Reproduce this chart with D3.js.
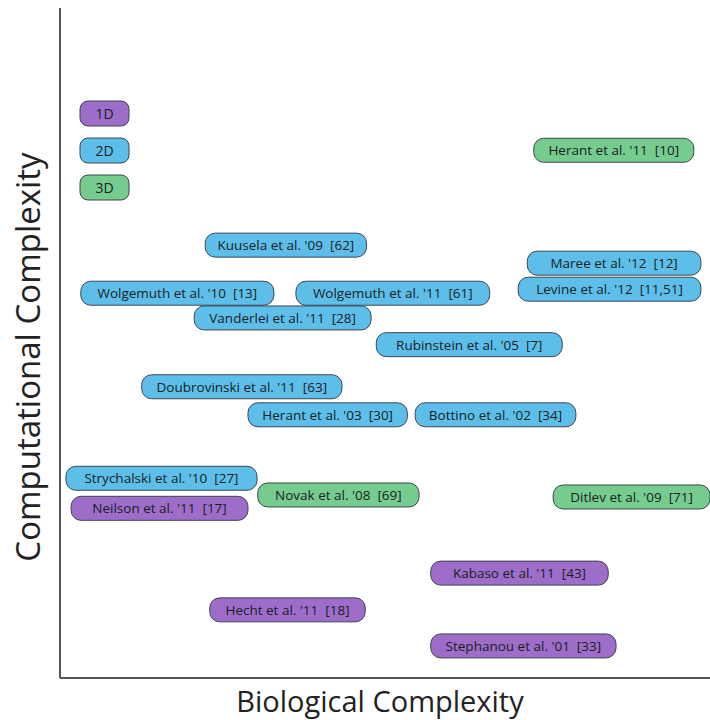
<!DOCTYPE html>
<html>
<head>
<meta charset="utf-8">
<script src="https://cdn.jsdelivr.net/npm/d3@7"></script>
<style>
  html, body { margin: 0; padding: 0; background: #fff; }
  svg { display: block; }
</style>
</head>
<body>
<div id="chart"></div>
<script>
(function () {
  'use strict';

  // ── Data ──
  var STUDIES = [
    "Herant et al. '11  [10]",
    "Kuusela et al. '09  [62]",
    "Maree et al. '12  [12]",
    "Wolgemuth et al. '10  [13]",
    "Wolgemuth et al. '11  [61]",
    "Levine et al. '12  [11,51]",
    "Vanderlei et al. '11  [28]",
    "Rubinstein et al. '05  [7]",
    "Doubrovinski et al. '11  [63]",
    "Herant et al. '03  [30]",
    "Bottino et al. '02  [34]",
    "Strychalski et al. '10  [27]",
    "Novak et al. '08  [69]",
    "Ditlev et al. '09  [71]",
    "Neilson et al. '11  [17]",
    "Kabaso et al. '11  [43]",
    "Hecht et al. '11  [18]",
    "Stephanou et al. '01  [33]"
  ];
  var DIMENSION = ['3D', '2D', '2D', '2D', '2D', '2D', '2D', '2D', '2D',
                   '2D', '2D', '2D', '3D', '3D', '1D', '1D', '1D', '1D'];
  // biological complexity span (low, high), 0-100
  var BIO_LOW  = [72.8, 22.1, 71.8, 2.9, 36.1, 70.4, 20.4, 48.5, 12.3,
                  28.7, 54.5, 0.6, 30.2, 75.8, 1.4, 56.9, 22.8, 56.9];
  var BIO_HIGH = [97.5, 47.0, 98.6, 32.7, 66.0, 98.6, 47.7, 77.2, 43.2,
                  53.3, 79.3, 30.1, 55.1, 100, 28.7, 84.3, 46.8, 85.5];
  // computational complexity, 0-100
  var COMP = [79.0, 64.8, 62.1, 57.6, 57.6, 58.2, 53.9, 49.9, 43.6,
              39.4, 39.4, 29.9, 27.4, 27.1, 25.4, 15.7, 10.2, 4.8];

  var LEGEND_KEYS = ['1D', '2D', '3D'];
  var COLORS = ['#9d6dc9', '#5dbeea', '#75cc8e'];

  // ── Layout ──
  var WIDTH = 710, HEIGHT = 720;
  var PLOT = { left: 60, right: 710, top: 8, bottom: 678 };
  var BOX_H = 24;
  var FONT = "'Open Sans', 'Noto Sans', sans-serif";

  var x = d3.scaleLinear().domain([0, 100]).range([PLOT.left + 2, PLOT.right]);
  var y = d3.scaleLinear().domain([0, 100]).range([PLOT.bottom, PLOT.top + 2]);
  var color = d3.scaleOrdinal().domain(LEGEND_KEYS).range(COLORS);

  var svg = d3.select('#chart').append('svg')
    .attr('width', WIDTH)
    .attr('height', HEIGHT);

  // axes: plain lines, no ticks
  svg.append('line')
    .attr('x1', PLOT.left).attr('x2', PLOT.left)
    .attr('y1', PLOT.top).attr('y2', PLOT.bottom)
    .attr('stroke', '#555').attr('stroke-width', 2);
  svg.append('line')
    .attr('x1', PLOT.left).attr('x2', PLOT.right)
    .attr('y1', PLOT.bottom).attr('y2', PLOT.bottom)
    .attr('stroke', '#555').attr('stroke-width', 2);

  // axis titles
  svg.append('text')
    .attr('x', 380)
    .attr('y', 712)
    .attr('text-anchor', 'middle')
    .attr('font-family', FONT)
    .attr('font-size', 29)
    .attr('fill', '#222')
    .text('Biological Complexity');

  svg.append('text')
    .attr('transform', 'translate(40,357) rotate(-90)')
    .attr('text-anchor', 'middle')
    .attr('font-family', FONT)
    .attr('font-size', 33)
    .attr('fill', '#222')
    .text('Computational Complexity');

  // ── Study boxes ──
  var rows = STUDIES.map(function (name, i) {
    return { name: name, dim: DIMENSION[i], lo: BIO_LOW[i], hi: BIO_HIGH[i], comp: COMP[i] };
  });

  var boxes = svg.append('g').selectAll('g.study')
    .data(rows)
    .join('g')
    .attr('class', 'study');

  boxes.append('rect')
    .attr('x', function (d) { return x(d.lo); })
    .attr('y', function (d) { return y(d.comp) - BOX_H / 2; })
    .attr('width', function (d) { return x(d.hi) - x(d.lo); })
    .attr('height', BOX_H)
    .attr('rx', 10)
    .attr('fill', function (d) { return color(d.dim); })
    .attr('stroke', '#3d4650')
    .attr('stroke-width', 1);

  boxes.append('text')
    .attr('x', function (d) { return (x(d.lo) + x(d.hi)) / 2; })
    .attr('y', function (d) { return y(d.comp); })
    .attr('dy', '0.36em')
    .attr('text-anchor', 'middle')
    .attr('font-family', FONT)
    .attr('font-size', 13.5)
    .attr('fill', '#1a1e22')
    .style('white-space', 'pre')
    .text(function (d) { return d.name; });

  // ── Legend ──
  var legend = svg.append('g').selectAll('g.key')
    .data(LEGEND_KEYS)
    .join('g')
    .attr('class', 'key')
    .attr('transform', function (d, i) { return 'translate(80,' + (101 + i * 37) + ')'; });

  legend.append('rect')
    .attr('width', 49).attr('height', 25).attr('rx', 8)
    .attr('fill', function (d) { return color(d); })
    .attr('stroke', '#3d4650').attr('stroke-width', 1);

  legend.append('text')
    .attr('x', 24.5).attr('y', 12.5).attr('dy', '0.36em')
    .attr('text-anchor', 'middle')
    .attr('font-family', FONT)
    .attr('font-size', 14)
    .attr('fill', '#1a1e22')
    .text(function (d) { return d; });
})();
</script>
</body>
</html>
